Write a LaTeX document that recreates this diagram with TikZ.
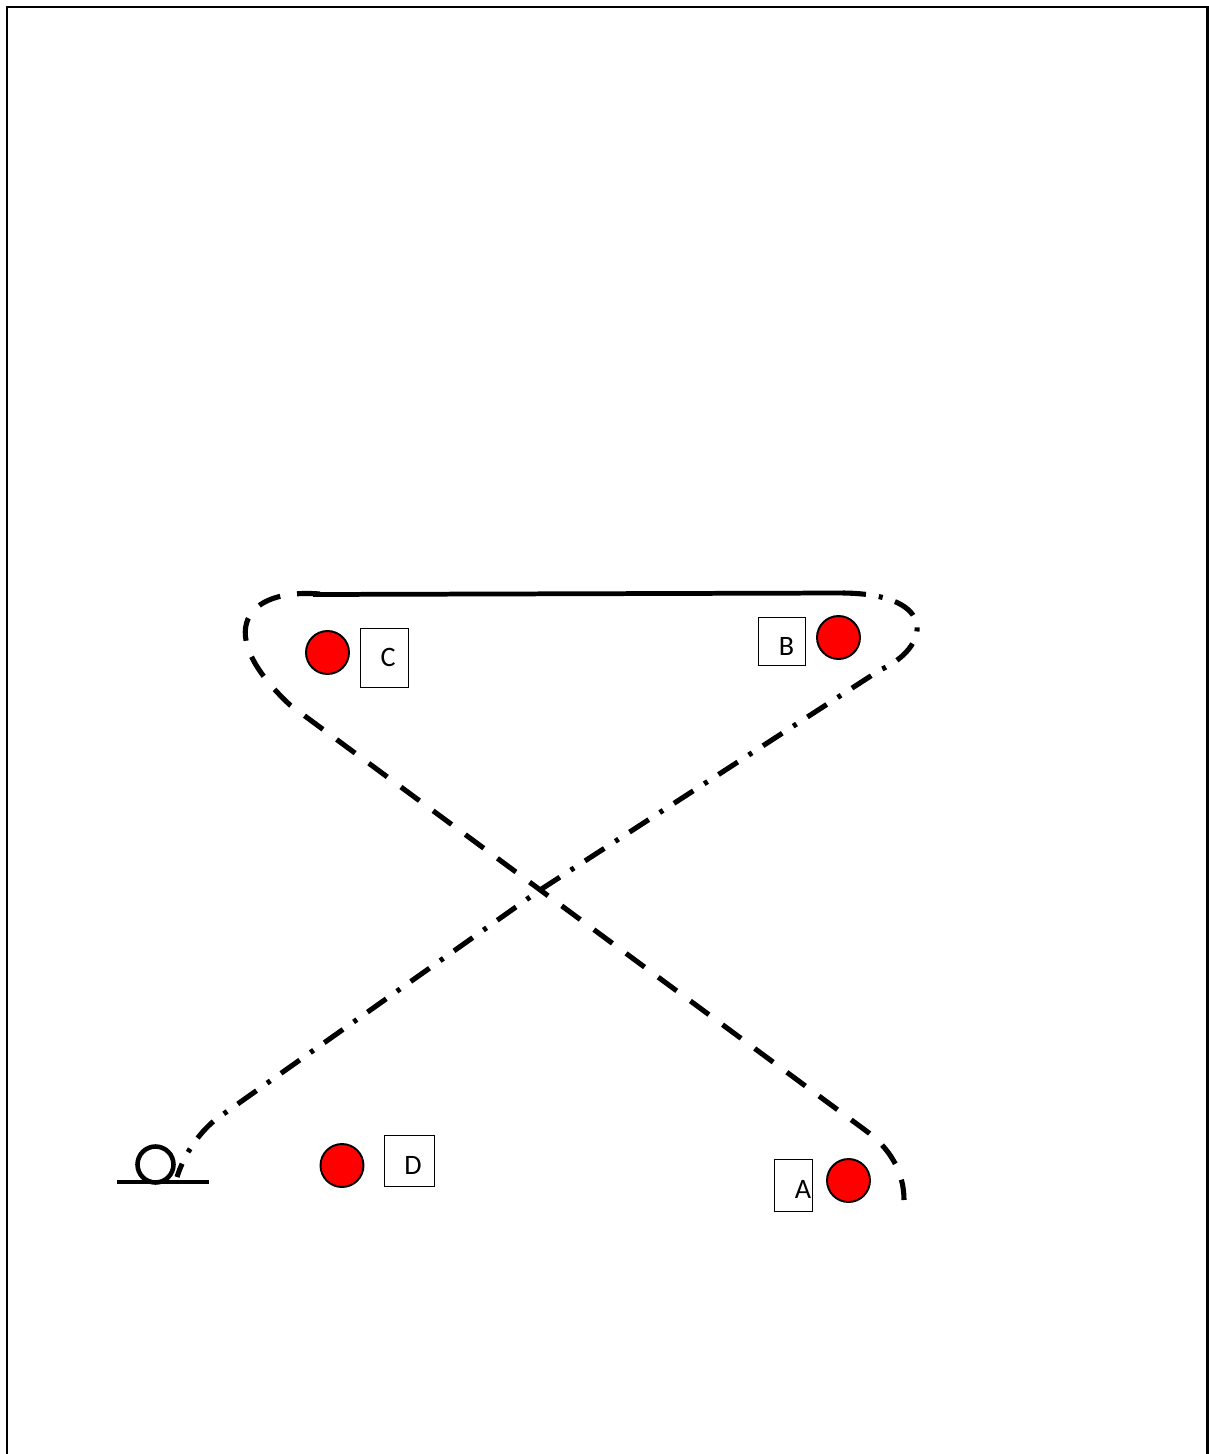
\documentclass[tikz,border=0pt]{standalone}
\usepackage{fontspec}
\setmainfont{Carlito}
\usetikzlibrary{positioning, calc}

\begin{document}
\begin{tikzpicture}[
    x=0.02cm, y=-0.02cm,
    player/.style={circle, draw=black, line width=1.1pt, fill=red, minimum size=0.86cm, inner sep=0pt},
    tag/.style={rectangle, draw=black, line width=0.5pt, inner sep=0pt},
    lab/.style={inner sep=0pt, font=\fontsize{16}{18}\selectfont},
    run/.style={line width=2.9pt, dash pattern=on 0.46cm off 0.34cm},
    pass/.style={line width=2.9pt, dash pattern=on 0.46cm off 0.26cm on 0.08cm off 0.26cm},
    line/.style={line width=2.7pt},
]
    \useasboundingbox (0,0) rectangle (1209,1454);
    \clip (0,0) rectangle (1209,1454);

    % Frame (open at the bottom)
    \draw[line width=1.7pt] (7,1470) -- (7,7) -- (1207,7) -- (1207,1470);

    % Players
    \node[player] (pC) at (327.5,652.5) {};
    \node[player] (pB) at (838.5,637.5) {};
    \node[player] (pD) at (342,1165.5) {};
    \node[player] (pA) at (848.5,1180.5) {};

    % Tags next to players
    \node[tag, minimum width=0.96cm, minimum height=1.18cm] (tC) at (384,657.5) {};
    \node[tag, minimum width=0.94cm, minimum height=0.96cm] (tB) at (781.5,641) {};
    \node[tag, minimum width=1.0cm, minimum height=1.02cm] (tD) at (409,1160.5) {};
    \node[tag, minimum width=0.76cm, minimum height=1.04cm] (tA) at (793,1185) {};
    \node[lab] (lC) at (388,657) {C};
    \node[lab] (lB) at (786.5,646.5) {B};
    \node[lab] (lD) at (413,1165) {D};
    \node[lab] (lA) at (803,1189) {A};

    % Cone with baseline
    \node[circle, draw, line width=2.6pt, minimum size=0.72cm, inner sep=0pt] (cone) at (155.5,1164.5) {};
    \coordinate (baseL) at (117,1182);
    \coordinate (baseR) at (209,1182);
    \draw[line width=2.2pt] (baseL) -- (baseR);

    % Path ends
    \coordinate (topL) at (313,594.5);
    \coordinate (topR) at (843,593);
    \coordinate (runEnd) at (904,1200);
    \coordinate (passEnd) at (177,1177);

    % Top line between the loops
    \draw[line] (topL) -- (topR);

    % Run: loop round C, then down to A
    \draw[run] (320,594) .. controls (245,588) and (212,632) .. (290,705)
        -- (865,1130) .. controls (890,1148) and (904,1172) .. (runEnd);

    % Pass: loop round B, then down to the cone
    \draw[pass] (topR) .. controls (940,594) and (930,648) .. (880,670)
        -- (540,890) -- (215,1120) .. controls (198,1134) and (184,1155) .. (passEnd);
\end{tikzpicture}
\end{document}
